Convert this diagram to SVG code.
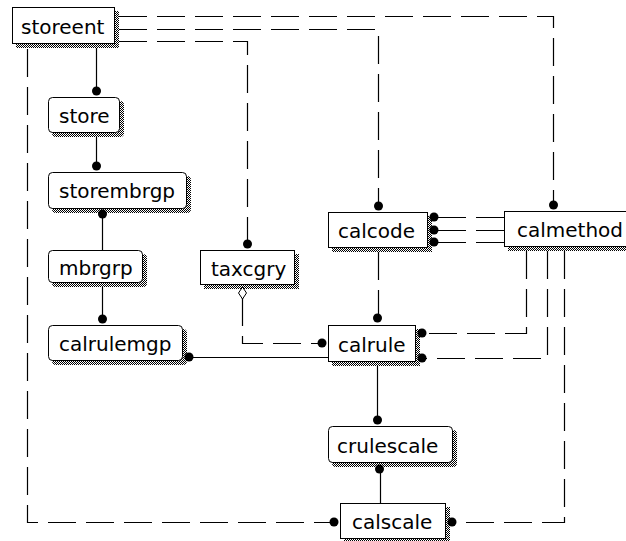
<svg xmlns="http://www.w3.org/2000/svg" width="626" height="541" viewBox="0 0 626 541">
<defs>
<pattern id="hatch" width="2" height="2" patternUnits="userSpaceOnUse">
<rect width="2" height="2" fill="#fff"/>
<rect width="1" height="1" fill="#000"/>
<rect x="1" y="1" width="1" height="1" fill="#000"/>
</pattern>
<style>
.sh{fill:url(#hatch);stroke:none}
.bx{fill:#fff;stroke:#000;stroke-width:1}
.lb{font-family:"DejaVu Sans",sans-serif;font-size:20px;fill:#000}
.ln{fill:none;stroke:#000;stroke-width:1.2}
.dl{fill:none;stroke:#000;stroke-width:1.2;stroke-dasharray:28 10}
.dot{fill:#000}
</style>
</defs>
<rect width="626" height="541" fill="#fff"/>

<g id="storeent">
<rect class="sh" x="16" y="11" width="103" height="37"/>
<rect class="bx" x="12.5" y="7.5" width="102" height="36"/>
<text class="lb" x="21" y="34">storeent</text>
</g>
<g id="store">
<rect class="sh" x="52" y="101" width="72" height="36" rx="4"/>
<rect class="bx" x="48.5" y="97.5" width="71" height="35" rx="4"/>
<text class="lb" x="59" y="123">store</text>
</g>
<g id="storembrgp">
<rect class="sh" x="52" y="176" width="139" height="37" rx="4"/>
<rect class="bx" x="48.5" y="172.5" width="138" height="36" rx="4"/>
<text class="lb" x="59" y="198">storembrgp</text>
</g>
<g id="mbrgrp">
<rect class="sh" x="52" y="254" width="95" height="33" rx="4"/>
<rect class="bx" x="48.5" y="250.5" width="94" height="32" rx="4"/>
<text class="lb" x="59" y="275">mbrgrp</text>
</g>
<g id="calrulemgp">
<rect class="sh" x="52" y="329" width="135" height="36" rx="4"/>
<rect class="bx" x="48.5" y="325.5" width="134" height="35" rx="4"/>
<text class="lb" x="59" y="351">calrulemgp</text>
</g>
<g id="taxcgry">
<rect class="sh" x="204" y="254" width="95" height="35"/>
<rect class="bx" x="200.5" y="250.5" width="94" height="34"/>
<text class="lb" x="211" y="276">taxcgry</text>
</g>
<g id="calcode">
<rect class="sh" x="332" y="216" width="100" height="36"/>
<rect class="bx" x="328.5" y="212.5" width="99" height="35"/>
<text class="lb" x="338" y="238">calcode</text>
</g>
<g id="calmethod">
<rect class="sh" x="508" y="215" width="130" height="36"/>
<rect class="bx" x="504.5" y="211.5" width="130" height="35"/>
<text class="lb" x="517" y="237">calmethod</text>
</g>
<g id="calrule">
<rect class="sh" x="332" y="329" width="88" height="37"/>
<rect class="bx" x="328.5" y="325.5" width="87" height="36"/>
<text class="lb" x="338" y="352">calrule</text>
</g>
<g id="crulescale">
<rect class="sh" x="332" y="430" width="125" height="37" rx="4"/>
<rect class="bx" x="328.5" y="426.5" width="124" height="36" rx="4"/>
<text class="lb" x="337" y="453">crulescale</text>
</g>
<g id="calscale">
<rect class="sh" x="344" y="507" width="106" height="36"/>
<rect class="bx" x="340.5" y="503.5" width="105" height="35"/>
<text class="lb" x="352" y="529">calscale</text>
</g>

<g id="connectors">
<!-- storeent -> store -->
<path class="ln" d="M96.5,48 V92"/><circle class="dot" cx="96.5" cy="91" r="4.5"/>
<!-- store -> storembrgp -->
<path class="ln" d="M96.5,137 V167"/><circle class="dot" cx="96.5" cy="166" r="4.5"/>
<!-- storembrgp -> mbrgrp -->
<path class="ln" d="M102.5,213 V250"/><circle class="dot" cx="102.5" cy="214" r="4.5"/>
<!-- mbrgrp -> calrulemgp -->
<path class="ln" d="M102.5,287 V320"/><circle class="dot" cx="102.5" cy="319" r="4.5"/>
<!-- calrulemgp -> calrule -->
<path class="ln" d="M189,357.5 H328"/><circle class="dot" cx="189" cy="357" r="4.5"/>
<!-- storeent -> taxcgry -->
<path class="dl" d="M119,41.5 H247.5 V244"/><circle class="dot" cx="247.5" cy="244" r="4.5"/>
<!-- storeent -> calcode -->
<path class="dl" d="M119,29.5 H378.5 V205"/><circle class="dot" cx="378.5" cy="206" r="4.5"/>
<!-- storeent -> calmethod -->
<path class="dl" d="M119,16.5 H553.5 V204"/><circle class="dot" cx="553.5" cy="205" r="4.5"/>
<!-- storeent -> calscale -->
<path class="dl" d="M27.5,49 V522.5 H335"/><circle class="dot" cx="334" cy="522" r="4.5"/>
<!-- taxcgry -> calrule -->
<path class="dl" d="M242.5,298 V343.5 H318"/><circle class="dot" cx="322" cy="343" r="4.5"/>
<path d="M242.5,287 L246.5,293 L242.5,299 L238.5,293 Z" fill="#fff" stroke="#000" stroke-width="1"/>
<!-- calcode -> calrule -->
<path class="dl" d="M378.5,252 V318"/><circle class="dot" cx="377.5" cy="318" r="4.5"/>
<!-- calmethod -> calcode (x3) -->
<path class="dl" d="M504,217.5 H436"/><circle class="dot" cx="434" cy="217" r="4.5"/>
<path class="dl" d="M504,230.5 H436"/><circle class="dot" cx="434" cy="230" r="4.5"/>
<path class="dl" d="M504,242.5 H436"/><circle class="dot" cx="434" cy="242" r="4.5"/>
<!-- calmethod -> calrule -->
<path class="dl" d="M526.5,251 V333.5 H424"/><circle class="dot" cx="422" cy="333" r="4.5"/>
<path class="dl" d="M547.5,251 V358.5 H424"/><circle class="dot" cx="422" cy="358" r="4.5"/>
<!-- calmethod -> calscale -->
<path class="dl" d="M564.5,251 V522.5 H454"/><circle class="dot" cx="452" cy="522" r="4.5"/>
<!-- calrule -> crulescale -->
<path class="ln" d="M377.5,366 V421"/><circle class="dot" cx="377.5" cy="420" r="4.5"/>
<!-- crulescale -> calscale -->
<path class="ln" d="M380.5,467 V503"/><circle class="dot" cx="379.5" cy="469" r="4.5"/>
</g>
</svg>
